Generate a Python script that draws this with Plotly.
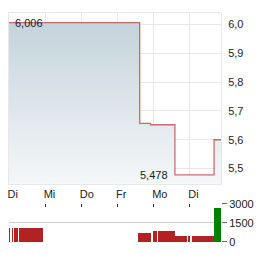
import plotly.graph_objects as go

# ---- data ----
day_labels = ["Di", "Mi", "Do", "Fr", "Mo", "Di"]
day_pos = [0, 1, 2, 3, 4, 5]

# price series (x in trading-day units, step line)
price_t = [0.0, 3.613, 3.91, 4.587, 5.669, 5.861]
price_v = [6.006, 5.657, 5.652, 5.478, 5.600, 5.600]

# volume bars: start/end (trading-day units), volume, direction
vol_start = [0.0, 0.083, 0.129, 0.275, 3.577, 3.990, 4.045, 4.128, 4.595, 4.953, 5.063, 5.669]
vol_end   = [0.025, 0.107, 0.239, 0.936, 3.935, 4.018, 4.073, 4.595, 4.926, 4.981, 5.669, 5.861]
vol_value = [1150, 1150, 1150, 1150, 700, 850, 850, 850, 475, 475, 475, 2650]
vol_up    = [False, False, False, False, False, False, False, False, False, False, False, True]

y_ticks = [5.5, 5.6, 5.7, 5.8, 5.9, 6.0]
vol_ticks = [0, 1500, 3000]

# ---- figure ----
FONT = "Arial, 'Liberation Sans', sans-serif"
RED = "#b22222"
GREEN = "#008000"
GRID = "#e8e8e8"

fig = go.Figure()

fig.add_trace(go.Scatter(
    x=price_t, y=price_v, mode="lines", line_shape="hv",
    line=dict(color="rgba(178,34,34,0.65)", width=1.3),
    fill="tozeroy",
    fillgradient=dict(type="vertical",
                      colorscale=[[0, "#f7f9fa"], [1, "#c5d3dc"]],
                      start=5.447, stop=6.006),
    hoverinfo="skip", xaxis="x", yaxis="y",
))

centers = [(a + b) / 2 for a, b in zip(vol_start, vol_end)]
widths = [b - a for a, b in zip(vol_start, vol_end)]
fig.add_trace(go.Bar(
    x=centers, y=vol_value, width=widths,
    marker=dict(color=[GREEN if u else RED for u in vol_up], line_width=0),
    xaxis="x2", yaxis="y2", hoverinfo="skip",
))

pmax = max(price_v)
pmin = min(price_v)
i_max = price_v.index(pmax)
i_min = price_v.index(pmin)
fig.add_annotation(x=price_t[i_max] + 0.11, y=pmax, xref="x", yref="y",
                   text=f"{pmax:.3f}".replace(".", ","), showarrow=False,
                   xanchor="left", yanchor="middle",
                   font=dict(family=FONT, size=11, color="#222"))
fig.add_annotation(x=price_t[i_min] - 0.13, y=pmin, xref="x", yref="y",
                   text=f"{pmin:.3f}".replace(".", ","), showarrow=False,
                   xanchor="right", yanchor="middle",
                   font=dict(family=FONT, size=11, color="#222"))

xr = [0, 5.861]
fig.update_layout(
    width=264, height=255,
    margin=dict(l=8, r=43, t=7, b=8),
    paper_bgcolor="white", plot_bgcolor="white",
    showlegend=False, separators=",.",
    font=dict(family=FONT, size=11, color="#222"),
    bargap=0,
    xaxis=dict(domain=[0, 1], range=xr, tickvals=day_pos, ticktext=day_labels,
               showgrid=True, gridcolor=GRID, gridwidth=1,
               showline=True, mirror=True, linecolor=GRID,
               ticks="", ticklabelposition="outside right", ticklabelshift=-2,
               zeroline=False, anchor="y"),
    yaxis=dict(domain=[0.254, 1], range=[5.447, 6.0397], side="right",
               tickvals=y_ticks, tickformat=".1f",
               showgrid=True, gridcolor=GRID, gridwidth=1,
               ticks="outside", ticklen=4, tickcolor="rgba(0,0,0,0)",
               showline=True, mirror=True, linecolor=GRID,
               zeroline=False, anchor="x"),
    xaxis2=dict(domain=[0, 1], range=xr, tickvals=day_pos, side="top",
                showticklabels=False, ticks="inside", ticklen=3, tickcolor="#333",
                showgrid=False, showline=False, zeroline=False, anchor="y2"),
    yaxis2=dict(domain=[0, 0.1667], range=[0, 3000], side="right",
                tickvals=vol_ticks, ticktext=[str(v) for v in vol_ticks],
                showgrid=True, gridcolor="#cccccc", gridwidth=1,
                ticks="outside", ticklen=5, tickcolor="#666",
                showline=False, zeroline=False, anchor="x2"),
)

fig.write_html("out.html")
